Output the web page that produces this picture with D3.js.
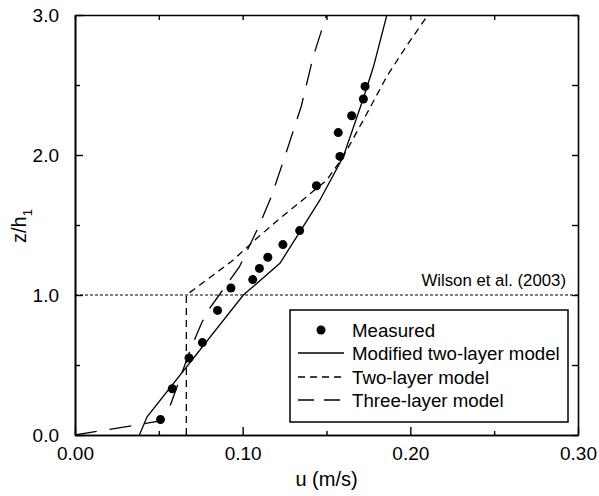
<!DOCTYPE html>
<html><head><meta charset="utf-8">
<script src="https://cdn.jsdelivr.net/npm/d3@7"></script>
<style>
body{margin:0;background:#fff;}
svg{display:block;font-family:"Liberation Sans",Arial,sans-serif;}
</style></head>
<body><svg id="c" width="599" height="496"></svg>
<script>
// Measured profile
const measuredU = [0.051, 0.058, 0.068, 0.076, 0.085, 0.093, 0.106, 0.110, 0.115, 0.124, 0.134, 0.144, 0.158, 0.157, 0.165, 0.172, 0.173];
const measuredZ = [0.11, 0.33, 0.55, 0.66, 0.89, 1.05, 1.11, 1.19, 1.27, 1.36, 1.46, 1.78, 1.99, 2.16, 2.28, 2.40, 2.49];
// Modified two-layer model
const modU = [0.0384, 0.043, 0.1004, 0.1222, 0.1342, 0.1461, 0.160, 0.172, 0.178, 0.186];
const modZ = [0.0, 0.13, 1.0, 1.226, 1.452, 1.679, 1.988, 2.405, 2.63, 3.0];
// Two-layer model
const twoU = [0.0664, 0.0664, 0.0825, 0.0944, 0.1084, 0.1223, 0.1382, 0.1501, 0.160, 0.172, 0.1859, 0.1978, 0.2105];
const twoZ = [0.0, 1.0, 1.143, 1.25, 1.405, 1.548, 1.702, 1.821, 1.988, 2.25, 2.56, 2.78, 3.0];
// Three-layer model
const threeU = [0.0, 0.051, 0.0565, 0.0625, 0.0685, 0.0755, 0.080, 0.086, 0.092, 0.098, 0.104, 0.110, 0.117, 0.1255, 0.135, 0.142, 0.150];
const threeZ = [0.0, 0.10, 0.20, 0.40, 0.60, 0.80, 0.90, 1.0, 1.1, 1.2, 1.35, 1.5, 1.7, 2.0, 2.35, 2.7, 3.0];
// Axes
const xTicks = [0.00, 0.10, 0.20, 0.30];
const xMinor = [0.05, 0.15, 0.25];
const yTicks = [0.0, 1.0, 2.0, 3.0];
const yMinor = [0.5, 1.5, 2.5];
const refZ = 1.0;
const refLabel = "Wilson et al. (2003)";
const legendLabels = ["Measured", "Modified two-layer model", "Two-layer model", "Three-layer model"];

(function(){
const L = 75, R = 578, T = 15, B = 435;
const x = d3.scaleLinear().domain([0, 0.30]).range([L, R]);
const y = d3.scaleLinear().domain([0, 3.0]).range([B, T]);
const svg = d3.select("#c");

svg.append("defs").append("clipPath").attr("id","pc")
  .append("rect").attr("x",L).attr("y",T).attr("width",R-L).attr("height",B-T);

const g = svg.append("g").attr("clip-path","url(#pc)");
const line = d3.line().x(d=>x(d[0])).y(d=>y(d[1]));

g.append("line").attr("x1",L).attr("x2",R).attr("y1",y(refZ)).attr("y2",y(refZ))
  .attr("stroke","#000").attr("stroke-width",1.2).attr("stroke-dasharray","3,2");

g.append("path").datum(d3.zip(threeU, threeZ)).attr("d", line)
  .attr("fill","none").attr("stroke","#000").attr("stroke-width",1.3).attr("stroke-dasharray","22,13");
g.append("path").datum(d3.zip(twoU, twoZ)).attr("d", line)
  .attr("fill","none").attr("stroke","#000").attr("stroke-width",1.3).attr("stroke-dasharray","7,5");
g.append("path").datum(d3.zip(modU, modZ)).attr("d", line)
  .attr("fill","none").attr("stroke","#000").attr("stroke-width",1.3);

g.selectAll("circle.m").data(d3.zip(measuredU, measuredZ)).enter().append("circle")
  .attr("cx",d=>x(d[0])).attr("cy",d=>y(d[1])).attr("r",4.5).attr("fill","#000");

const fx = d3.format(".2f"), fy = d3.format(".1f");
const axB = svg.append("g").attr("transform",`translate(0,${B})`)
  .call(d3.axisBottom(x).tickValues(xTicks).tickFormat(fx).tickSizeInner(-8).tickSizeOuter(0).tickPadding(12));
const axBm = svg.append("g").attr("transform",`translate(0,${B})`)
  .call(d3.axisBottom(x).tickValues(xMinor).tickFormat("").tickSizeInner(-4).tickSizeOuter(0));
const axT = svg.append("g").attr("transform",`translate(0,${T})`)
  .call(d3.axisTop(x).tickValues(xTicks.concat(xMinor)).tickFormat("").tickSizeInner(-5).tickSizeOuter(0));
const axL = svg.append("g").attr("transform",`translate(${L},0)`)
  .call(d3.axisLeft(y).tickValues(yTicks).tickFormat(fy).tickSizeInner(-8).tickSizeOuter(0).tickPadding(16));
const axLm = svg.append("g").attr("transform",`translate(${L},0)`)
  .call(d3.axisLeft(y).tickValues(yMinor).tickFormat("").tickSizeInner(-5).tickSizeOuter(0));
const axR = svg.append("g").attr("transform",`translate(${R},0)`)
  .call(d3.axisRight(y).tickValues(yTicks.concat(yMinor)).tickFormat("").tickSizeInner(-6).tickSizeOuter(0));
[axB,axBm,axT,axL,axLm,axR].forEach(a=>{
  a.selectAll(".domain").attr("stroke","#000").attr("stroke-width",1.6);
  a.selectAll(".tick line").attr("stroke","#000").attr("stroke-width",1.4);
  a.selectAll("text").attr("font-size",19).attr("fill","#000").attr("font-family","Liberation Sans, Arial, sans-serif");
});

svg.append("text").attr("x",(L+R)/2).attr("y",486).attr("text-anchor","middle")
  .attr("font-size",20).text("u (m/s)");
const yl = svg.append("text").attr("transform","translate(26,226) rotate(-90)").attr("text-anchor","middle").attr("font-size",20);
yl.append("tspan").text("z/h");
yl.append("tspan").attr("font-size",13).attr("dy",6).text("1");

svg.append("text").attr("x",566).attr("y",286).attr("text-anchor","end").attr("font-size",16.8).text(refLabel);

const lg = svg.append("g");
lg.append("rect").attr("x",290).attr("y",310).attr("width",278).attr("height",112)
  .attr("fill","#fff").attr("stroke","#000").attr("stroke-width",1.5);
const rowY = [330, 353, 377, 400];
const dashes = [null, null, "7,5", "16,10"];
legendLabels.forEach((t,i)=>{
  if(i===0){
    lg.append("circle").attr("cx",321).attr("cy",rowY[i]).attr("r",4.5).attr("fill","#000");
  } else {
    const l = lg.append("line").attr("x1",298).attr("x2",344).attr("y1",rowY[i]).attr("y2",rowY[i])
      .attr("stroke","#000").attr("stroke-width",1.3);
    if(dashes[i]) l.attr("stroke-dasharray",dashes[i]);
  }
  lg.append("text").attr("x",352).attr("y",rowY[i]+6.5).attr("font-size",18.7).text(t);
});
})();
</script></body></html>
